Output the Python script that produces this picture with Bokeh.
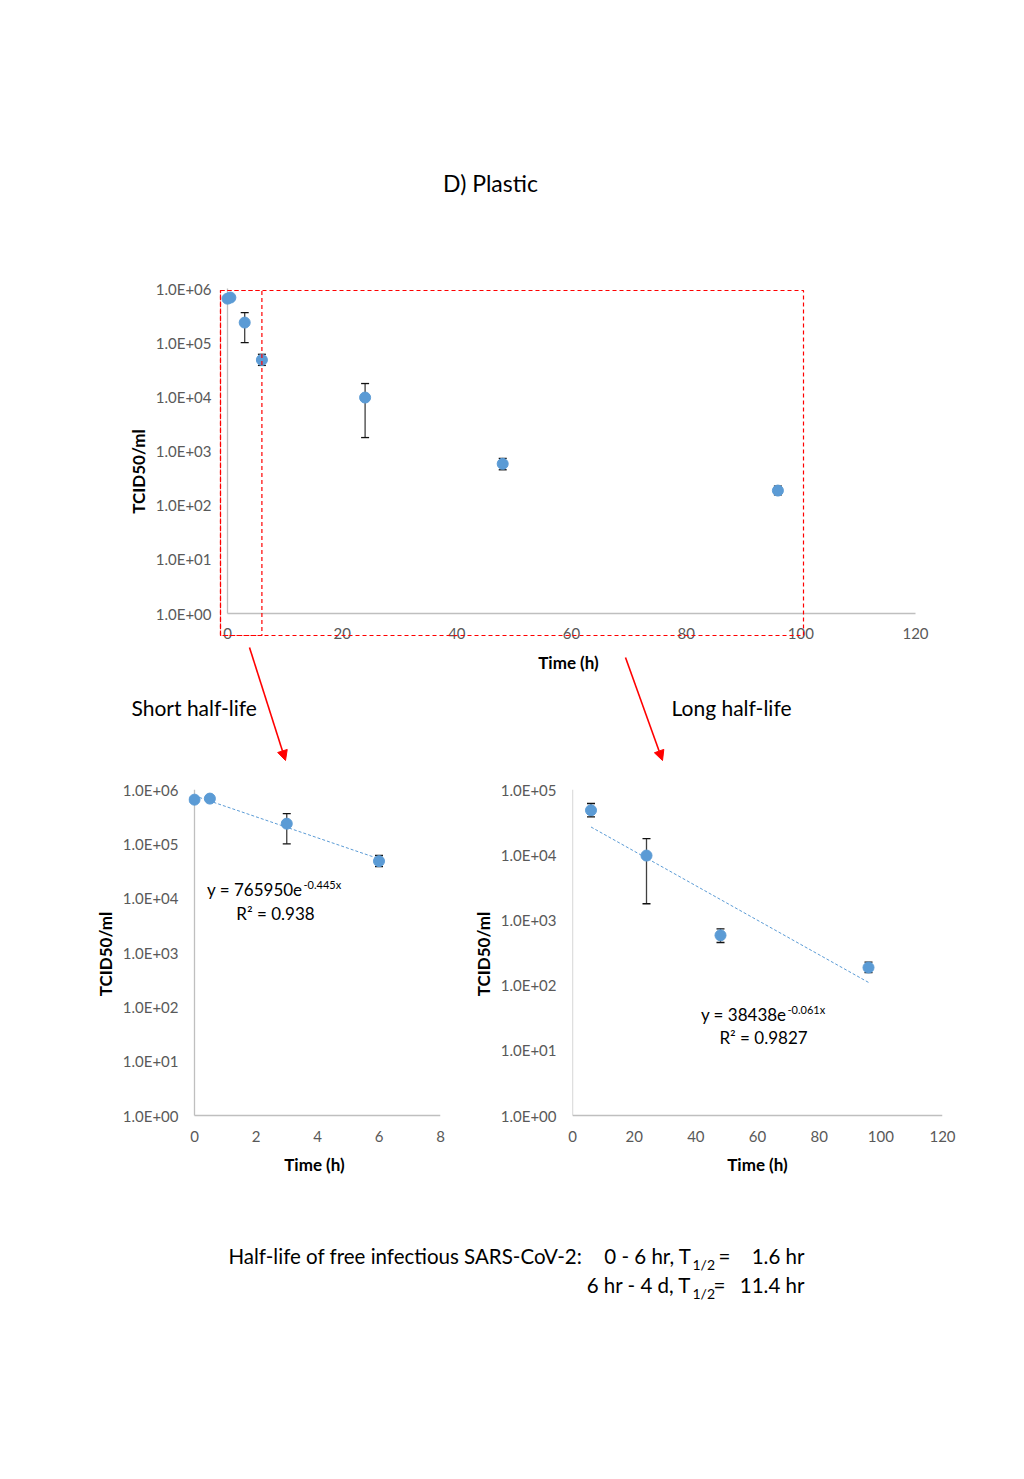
from bokeh.plotting import figure
from bokeh.models import (Range1d, ColumnDataSource, Whisker, TeeHead, BoxAnnotation,
                          Arrow, NormalHead, Label, CustomJSTickFormatter, FixedTicker)
from bokeh.layouts import column, row
from bokeh.embed import file_html
from bokeh.resources import INLINE

FONT = "Lato"
BLUE = "#5B9BD5"
RED = "#FF0000"
AXIS_GREY = "#BFBFBF"

# ---------------- data ----------------
time_h = [0, 0.5, 3, 6, 24, 48, 96]
titer = [6.5e5, 6.8e5, 2.35e5, 4.8e4, 9.7e3, 5.8e2, 1.86e2]
titer_upper = [7.0e5, 7.2e5, 3.6e5, 6.1e4, 1.76e4, 7.3e2, 2.25e2]
titer_lower = [6.0e5, 6.4e5, 1.0e5, 3.8e4, 1.77e3, 4.5e2, 1.55e2]

short_n = 4          # first four points: 0 - 6 h
long_start = 3       # last four points: 6 h - 4 d

short_trend_x = [0, 6]
short_trend_y = [7.66e5, 5.3e4]
long_trend_x = [6, 96]
long_trend_y = [2.66e4, 1.1e2]

top_xticks = [0, 20, 40, 60, 80, 100, 120]
short_xticks = [0, 2, 4, 6, 8]
long_xticks = [0, 20, 40, 60, 80, 100, 120]
top_yticks = [1, 10, 100, 1000, 10000, 100000, 1000000]
long_yticks = [1, 10, 100, 1000, 10000, 100000]

exp_fmt = CustomJSTickFormatter(code="""
const e = Math.round(Math.log10(tick));
const a = Math.abs(e);
return '1.0E' + (e < 0 ? '-' : '+') + (a < 10 ? '0' : '') + a;
""")


def make_fig(fw, fh, bl, br, bt, bb, xr, yr, xticks, yticks):
    p = figure(frame_width=fw, frame_height=fh, x_range=Range1d(*xr), y_range=Range1d(*yr),
               y_axis_type="log", output_backend="svg", toolbar_location=None,
               min_border_left=bl, min_border_right=br, min_border_top=bt, min_border_bottom=bb)
    p.outline_line_color = None
    p.grid.visible = False
    p.xaxis.ticker = FixedTicker(ticks=xticks)
    p.yaxis.ticker = FixedTicker(ticks=yticks)
    p.yaxis.formatter = exp_fmt
    for ax in (p.xaxis[0], p.yaxis[0]):
        ax.axis_line_color = None
        ax.major_tick_line_color = None
        ax.minor_tick_line_color = None
        ax.major_tick_out = 0
        ax.major_tick_in = 0
        ax.minor_tick_out = 0
        ax.minor_tick_in = 0
        ax.major_label_text_color = "#595959"
        ax.major_label_text_font = FONT
        ax.major_label_text_font_size = "15px"
        ax.axis_label_text_font = FONT
        ax.axis_label_text_font_style = "bold"
        ax.axis_label_text_font_size = "17px"
        ax.axis_label_text_color = "#000000"
    p.xaxis.axis_label = "Time (h)"
    p.yaxis.axis_label = "TCID50/ml"
    return p


def axis_lines(p, x0, x1, y0, y1):
    p.line([x0, x1], [y0, y0], line_color=AXIS_GREY, line_width=1.3)
    p.line([x0, x0], [y0, y1], line_color=AXIS_GREY, line_width=1.3)


def add_points(p, xs, ys, up, lo):
    src = ColumnDataSource(dict(x=xs, y=ys, upper=up, lower=lo))
    w = Whisker(source=src, base="x", upper="upper", lower="lower", level="underlay",
                line_color="#404040", line_width=1.3,
                upper_head=TeeHead(size=8, line_color="#111111", line_width=1.3),
                lower_head=TeeHead(size=8, line_color="#111111", line_width=1.3))
    p.add_layout(w)
    p.scatter("x", "y", source=src, size=11, fill_color=BLUE, line_color=BLUE)


def lab(p, x, y, text, size, align="left", baseline="middle", style="normal", color="#000000"):
    p.add_layout(Label(x=x, y=y, text=text, text_align=align, text_baseline=baseline,
                       text_font=FONT, text_font_size=size, text_font_style=style,
                       text_color=color))


# ---------------- top figure: all data ----------------
# chart: x 0..120 -> px 227..915 ; y 1e0..1e6 -> px 613..288
# the frame is widened (px 120..1016 x 170..772) so the annotations are inside it


def tx(px):
    return (px - 227) / (915 - 227) * 120


def ty(py):
    return 10 ** ((613 - py) / (613 - 288) * 6)


top = make_fig(896, 602, 120, 0, 170, 0, (tx(120), tx(1016)), (ty(772), ty(170)),
               top_xticks, top_yticks)
top.xaxis.major_label_standoff = -145
top.xaxis.axis_label_standoff = 10
top.yaxis.major_label_standoff = -91
top.yaxis.axis_label_standoff = 4

axis_lines(top, 0, 120, 1, 1e6)
add_points(top, time_h, titer, titer_upper, titer_lower)

for right in (tx(803), 6):
    top.add_layout(BoxAnnotation(left=tx(220), right=right, top=ty(290), bottom=ty(635),
                                 fill_alpha=0, line_color=RED, line_alpha=1.0, line_dash="4 3",
                                 line_width=1.2, level="overlay"))

lab(top, tx(490), ty(182), "D) Plastic", "23px", align="center")
lab(top, tx(131), ty(707), "Short half-life", "21px")
lab(top, tx(671), ty(707), "Long half-life", "21px")

for (x0, y0, x1, y1) in ((249, 647, 285, 760), (625, 657, 662, 760)):
    top.add_layout(Arrow(x_start=tx(x0), y_start=ty(y0), x_end=tx(x1), y_end=ty(y1),
                         line_color=RED, line_width=1.6,
                         end=NormalHead(size=10, fill_color=RED, line_color=RED)))

# ---------------- lower left: short half-life ----------------
# x 0..8 -> px 194..440 ; y 1e0..1e6 -> px 1115..789 (row starts at y=772)


def lx(px):
    return (px - 194) / (440 - 194) * 8


def ly(py):
    return 10 ** ((1115 - py) / (1115 - 789) * 6)


left = make_fig(252, 329, 188, 12, 17, 74, (lx(188), 8), (ly(1118), 1e6), short_xticks, top_yticks)
left.xaxis.major_label_standoff = 12
left.xaxis.axis_label_standoff = 9
left.yaxis.major_label_standoff = 10
left.yaxis.axis_label_standoff = 4

axis_lines(left, 0, 8, 1, 1e6)
left.line(short_trend_x, short_trend_y, line_color=BLUE, line_dash="3 2", line_width=1)
add_points(left, time_h[:short_n], titer[:short_n], titer_upper[:short_n], titer_lower[:short_n])
lab(left, lx(302), ly(889), "y = 765950e", "17px", align="right")
lab(left, lx(303), ly(884), "-0.445x", "11px")
lab(left, lx(275), ly(913), "R² = 0.938", "17px", align="center")

# ---------------- lower right: long half-life ----------------
# x 0..120 -> px 572..942 ; y 1e0..1e5 -> px 1115..789


def rx(px):
    return (px - 572) / (942 - 572) * 120


def ry(py):
    return 10 ** ((1115 - py) / (1115 - 789) * 5)


right = make_fig(370, 329, 120, 74, 17, 74, (0, 120), (ry(1118), 1e5), long_xticks, long_yticks)
right.xaxis.major_label_standoff = 12
right.xaxis.axis_label_standoff = 9
right.yaxis.major_label_standoff = 16
right.yaxis.axis_label_standoff = 4

axis_lines(right, 0, 120, 1, 1e5)
right.line(long_trend_x, long_trend_y, line_color=BLUE, line_dash="3 2", line_width=1)
add_points(right, time_h[long_start:], titer[long_start:], titer_upper[long_start:],
           titer_lower[long_start:])
lab(right, rx(786), ry(1014), "y = 38438e", "17px", align="right")
lab(right, rx(787), ry(1009), "-0.061x", "11px")
lab(right, rx(763), ry(1037), "R² = 0.9827", "17px", align="center")

# ---------------- bottom text (page pixel coordinates) ----------------
bottom = figure(frame_width=896, frame_height=130, x_range=Range1d(120, 1016),
                y_range=Range1d(1322, 1192), output_backend="svg", toolbar_location=None,
                min_border_left=120, min_border_right=0, min_border_top=0, min_border_bottom=0)
bottom.axis.visible = False
bottom.grid.visible = False
bottom.outline_line_color = None

lab(bottom, 228, 1255, "Half-life of free infectious SARS-CoV-2:", "20.5px")
lab(bottom, 691, 1255, "0 - 6 hr, T", "20.5px", align="right")
lab(bottom, 692, 1264, "1/2", "14px")
lab(bottom, 718, 1255, "=", "20.5px")
lab(bottom, 804, 1255, "1.6 hr", "20.5px", align="right")
lab(bottom, 691, 1284, "6 hr - 4 d, T", "20.5px", align="right")
lab(bottom, 692, 1293, "1/2", "14px")
lab(bottom, 713, 1284, "=", "20.5px")
lab(bottom, 804, 1284, "11.4 hr", "20.5px", align="right")

layout = column(top, row(left, right), bottom)

with open("out.html", "w") as f:
    f.write(file_html(layout, INLINE))
